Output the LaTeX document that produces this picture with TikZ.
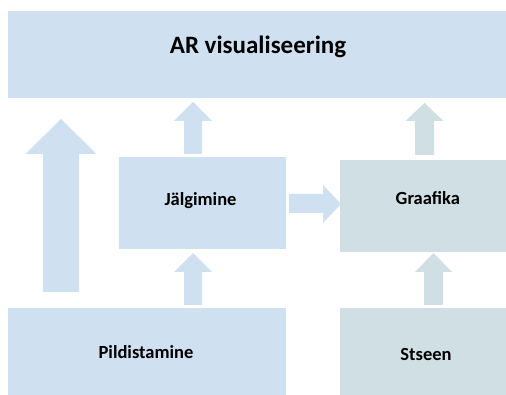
\documentclass[tikz,border=0pt]{standalone}
\usepackage{fontspec}
\setmainfont{Carlito}
\definecolor{paleblue}{HTML}{CFE0F1}
\definecolor{palegrey}{HTML}{D0DFE3}
\tikzset{
  blockA/.style={fill=paleblue, draw=none},
  blockB/.style={fill=palegrey, draw=none},
  lbl/.style={font=\bfseries, text=black, inner sep=0pt, anchor=base}
}
% vertical block arrow: centre x, bottom y, head base y, tip y, shaft width, head width
\newcommand{\uparrowblk}[7]{%
  \fill[#1] ({#2-#6/2},#3) -- ({#2-#6/2},#4) -- ({#2-#7/2},#4) -- (#2,#5)
    -- ({#2+#7/2},#4) -- ({#2+#6/2},#4) -- ({#2+#6/2},#3) -- cycle;}
\begin{document}
\begin{tikzpicture}[x=1pt,y=-1pt]
\useasboundingbox (0,0) rectangle (506,395);
\clip (0,0) rectangle (506,395);
% boxes
\path[blockA] (8,11) rectangle (520,98) coordinate (ar);
\path[blockA] (119,157) rectangle (286,249);
\path[blockB] (340,160) rectangle (520,252);
\path[blockA] (8,308) rectangle (286,410);
\path[blockB] (340,308) rectangle (520,410);
% labels
\node[lbl, font=\bfseries\fontsize{25}{28}\selectfont] (arv) at (258,54) {AR visualiseering};
\node[lbl, font=\bfseries\fontsize{18.5}{22}\selectfont] (jal) at (200.5,206) {Jälgimine};
\node[lbl, font=\bfseries\fontsize{18.5}{22}\selectfont] (pil) at (146,358) {Pildistamine};
\node[lbl, font=\bfseries\fontsize{18.5}{22}\selectfont] (gra) at (427.8,204.5) {Graafika};
\node[lbl, font=\bfseries\fontsize{18.5}{22}\selectfont] (sts) at (426,360.5) {Stseen};
% block arrows
\uparrowblk{paleblue}{61}{292}{154}{119}{36}{71}
\uparrowblk{paleblue}{193}{154}{121}{102}{18}{38}
\uparrowblk{palegrey}{424.5}{155}{121}{103}{19}{38}
\uparrowblk{paleblue}{193}{305}{272}{253}{18}{38}
\uparrowblk{palegrey}{433.5}{305}{272}{253}{19}{37}
\fill[paleblue] (289,194) -- (323,194) -- (323,185) -- (341,204) -- (323,223)
  -- (323,213) -- (289,213) -- cycle;
\end{tikzpicture}
\end{document}
